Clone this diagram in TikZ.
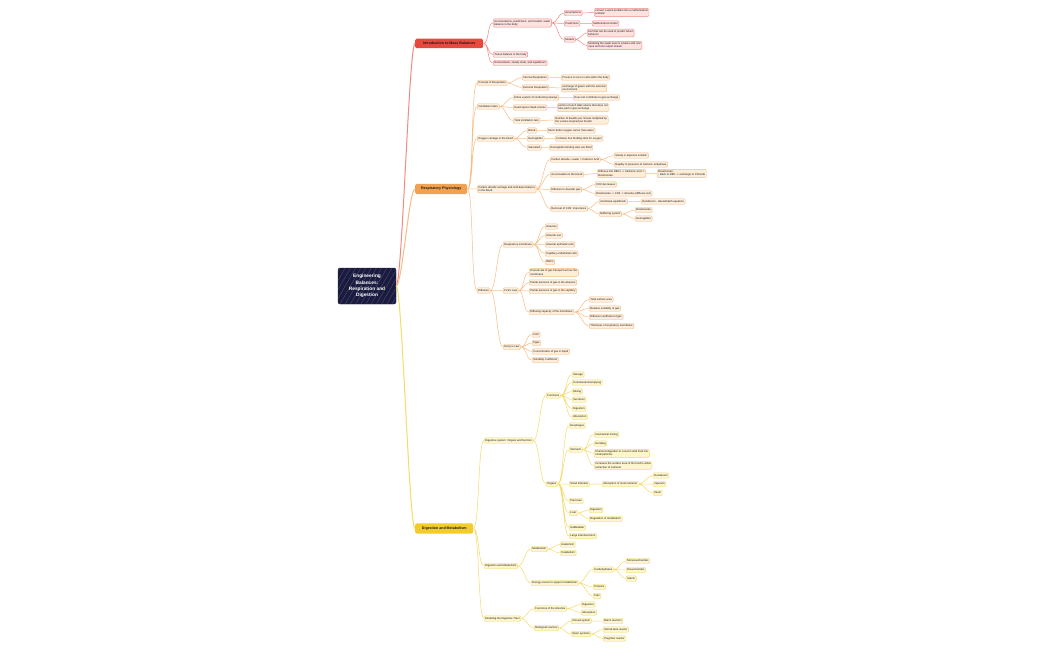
\documentclass[tikz,border=0pt]{standalone}
\usepackage{fontspec}
\setmainfont{Liberation Sans}
\usepackage{xcolor}
\usepackage{tikz}
\usetikzlibrary{patterns.meta}

\definecolor{rootnavy}{HTML}{1B1B40}
\definecolor{redmain}{HTML}{E8483E}
\definecolor{redline}{HTML}{F28A84}
\definecolor{redfill}{HTML}{FDE2E0}
\definecolor{orgmain}{HTML}{F2A14F}
\definecolor{orgline}{HTML}{F6BD84}
\definecolor{orgfill}{HTML}{FDEEDC}
\definecolor{ylwmain}{HTML}{F2CB2C}
\definecolor{ylwline}{HTML}{F4DB6A}
\definecolor{ylwfill}{HTML}{FDF5CE}

\begin{document}
\begin{tikzpicture}[
    x=1pt, y=-1pt,
    rootbox/.style = {
        draw=rootnavy,
        rounded corners=2pt,
        minimum width=58pt,
        minimum height=36pt,
        align=center,
        text=white,
        font=\fontsize{4.8}{6.3}\selectfont\bfseries,
        preaction={fill=rootnavy},
        pattern={Lines[angle=60, distance=4.5pt, line width=0.25pt]},
        pattern color=white!30!rootnavy
    },
    topicbox/.style = {
        rounded corners=1.5pt,
        anchor=west,
        minimum height=9.5pt,
        inner xsep=5pt,
        font=\fontsize{3.6}{4}\selectfont\bfseries,
        text=black!90
    },
    leafbox/.style = {
        draw,
        rounded corners=1.2pt,
        anchor=west,
        align=left,
        minimum height=5.5pt,
        inner sep=1.2pt,
        line width=0.45pt,
        font=\fontsize{2.7}{3.2}\selectfont,
        text=black!90
    },
    redleaf/.style = {leafbox, draw=redline, fill=redfill},
    orgleaf/.style = {leafbox, draw=orgline, fill=orgfill},
    ylwleaf/.style = {leafbox, draw=ylwline, fill=ylwfill},
    link/.style = {out=0, in=180, max distance=6pt, line width=0.5pt},
    redlink/.style = {link, draw=redline},
    orglink/.style = {link, draw=orgline},
    ylwlink/.style = {link, draw=ylwline}
]

\fill[white] (0,0) rectangle (1050,650);
\useasboundingbox (0,0) rectangle (1050,650);

% --- Racine ---
\node[rootbox] (root) at (367,286) {Engineering\\Balances:\\Respiration and\\Digestion};

% --- Introduction to Mass Balances ---
\node[topicbox, fill=redmain, minimum width=68pt] (intro) at (415,43.5) {Introduction to Mass Balances};
\node[redleaf] (accum) at (493,23) {Accumulations, predictions, and models: water\\balance in the body};
\node[redleaf] (assum) at (564,13) {Assumptions};
\node[redleaf] (assumD) at (594,12.5) {convert a word problem into a mathematical\\problem};
\node[redleaf] (predic) at (564,23.5) {Predictions};
\node[redleaf] (predicD) at (592,23.5) {Mathematical model};
\node[redleaf] (models) at (564,39.5) {Models};
\node[redleaf] (modelsA) at (587,33) {tool that can be used to predict future\\behavior};
\node[redleaf] (modelsB) at (587,45.5) {Modeling the water level in a basin with one\\input and one output stream};
\node[redleaf] (tissue) at (493,54.5) {Tissue balance in the body};
\node[redleaf] (homeo) at (493,63) {Homeostasis, steady state, and equilibrium};

% --- Respiratory Physiology ---
\node[topicbox, fill=orgmain, minimum width=52pt] (resp) at (415,189) {Respiratory Physiology};

\node[orgleaf] (concept) at (477,83) {Concept of Respiration};
\node[orgleaf] (internal) at (522,77.5) {Internal Respiration};
\node[orgleaf] (internalD) at (561,77.5) {Process occurs in cells within the body};
\node[orgleaf] (external) at (522,87.5) {External Respiration};
\node[orgleaf] (externalD) at (561,88) {exchange of gases with the external\\environment};

\node[orgleaf] (vent) at (477,106.5) {Ventilation index};
\node[orgleaf] (entire) at (513,97.5) {Entire system of conducting airways};
\node[orgleaf] (entireD) at (573,97.5) {Does not contribute to gas exchange};
\node[orgleaf] (dead) at (513,107.5) {Dead space/ dead volume};
\node[orgleaf] (deadD) at (557,107.5) {portion of each tidal volume that does not\\take part in gas exchange};
\node[orgleaf] (total) at (513,120.5) {Total Ventilation rate};
\node[orgleaf] (totalD) at (554,120) {Number of breaths per minute multiplied by\\the volume inspired per breath};

\node[orgleaf] (oxy) at (477,138.5) {Oxygen carriage in the blood};
\node[orgleaf] (blood) at (527,130.5) {Blood};
\node[orgleaf] (bloodD) at (547,130.5) {Much better oxygen carrier than water};
\node[orgleaf] (hemo) at (527,138.5) {Hemoglobin};
\node[orgleaf] (hemoD) at (555,138.5) {Contains four binding sites for oxygen};
\node[orgleaf] (satur) at (527,147.5) {Saturated};
\node[orgleaf] (saturD) at (549,147.5) {Hemoglobin binding sites are filled};

\node[orgleaf] (carbon) at (477,189) {Carbon dioxide carriage and acid-base balance\\in the blood};
\node[orgleaf] (cdw) at (550,159.5) {Carbon dioxide + water = Carbonic Acid};
\node[orgleaf] (slowly) at (614,155.5) {Slowly in aqueous solution};
\node[orgleaf] (rapidly) at (614,164.5) {Rapidly in presence of carbonic anhydrase};
\node[orgleaf] (accumB) at (550,174.5) {Accumulation in the blood};
\node[orgleaf] (diffRBC) at (597,173.5) {Diffuses into RBCs -> Carbonic acid ->\\Bicarbonate};
\node[orgleaf] (bicarb) at (657,173.5) {Bicarbonate:\\- Back to RBC -> exchange to Chloride};
\node[orgleaf] (diffAlv) at (550,189.5) {Diffusion to Alveolar gas};
\node[orgleaf] (co2dec) at (595,184.5) {CO2 decreases};
\node[orgleaf] (bicAlv) at (595,193.5) {Bicarbonate -> CO2 -> Alveolus (diffuses out)};
\node[orgleaf] (removal) at (550,208.5) {Removal of CO2: importance};
\node[orgleaf] (acidB) at (599,201.5) {Acid-base equilibrium};
\node[orgleaf] (hender) at (641,201.5) {Henderson - Hasselbalch equation};
\node[orgleaf] (buffer) at (599,214) {Buffering system};
\node[orgleaf] (bufBic) at (635,210) {Bicarbonate};
\node[orgleaf] (bufHem) at (635,218.5) {Hemoglobin};

\node[orgleaf] (diffusion) at (477,290.5) {Diffusion};
\node[orgleaf] (respMem) at (503,244.5) {Respiratory membrane};
\node[orgleaf] (alveolus) at (545,226.5) {Alveolus};
\node[orgleaf] (alvSac) at (545,235.5) {Alveolar sac};
\node[orgleaf] (alvEpi) at (545,244.5) {Alveolar epithelial cells};
\node[orgleaf] (capEnd) at (545,253.5) {Capillary endothelial cells};
\node[orgleaf] (rbcs) at (545,262) {RBCs};
\node[orgleaf] (fick) at (503,290.5) {Fick's Law};
\node[orgleaf] (overall) at (529,272.5) {Overall rate of gas transport across the\\membrane};
\node[orgleaf] (ppAlv) at (529,282.5) {Partial pressure of gas in the alveolus};
\node[orgleaf] (ppCap) at (529,291) {Partial pressure of gas in the capillary};
\node[orgleaf] (diffCap) at (529,312) {Diffusing capacity of the membrane};
\node[orgleaf] (surface) at (589,299.5) {Total surface area};
\node[orgleaf] (relSol) at (589,308.5) {Relative solubility of gas};
\node[orgleaf] (diffCoef) at (589,317) {Diffusion coefficient of gas};
\node[orgleaf] (thick) at (589,326) {Thickness of respiratory membrane};
\node[orgleaf] (henry) at (503,347) {Henry's Law};
\node[orgleaf] (co2) at (532,334.5) {CO2};
\node[orgleaf] (pgas) at (532,343) {Pgas};
\node[orgleaf] (conc) at (532,351.5) {Concentration of gas in liquid};
\node[orgleaf] (solub) at (532,360) {Solubility coefficient};

% --- Digestion and Metabolism ---
\node[topicbox, fill=ylwmain, minimum width=58pt] (digest) at (415,528.5) {Digestion and Metabolism};

\node[ylwleaf] (system) at (484,440.5) {Digestive system: Organs and function};
\node[ylwleaf] (functions) at (546,395.5) {Functions};
\node[ylwleaf] (storage) at (572,374.5) {Storage};
\node[ylwleaf] (commin) at (572,382.5) {Comminution/emptying};
\node[ylwleaf] (mixing) at (572,391.5) {Mixing};
\node[ylwleaf] (secretion) at (572,399.5) {Secretion};
\node[ylwleaf] (fDigestion) at (572,408.5) {Digestion};
\node[ylwleaf] (fAbsorption) at (572,417) {Absorption};
\node[ylwleaf] (organs) at (546,484) {Organs};
\node[ylwleaf] (esoph) at (569,425.5) {Esophagus};
\node[ylwleaf] (stomach) at (569,449.5) {Stomach};
\node[ylwleaf] (mech) at (594,434.5) {mechanical mixing};
\node[ylwleaf] (grind) at (594,443.5) {Grinding};
\node[ylwleaf] (chem) at (594,453.5) {Chemical digestion to convert solid food into\\small particles};
\node[ylwleaf] (incr) at (594,465.5) {Increases the surface area of the food to allow\\extraction of nutrients};
\node[ylwleaf] (smallInt) at (569,484) {Small Intestine};
\node[ylwleaf] (absMost) at (602,484) {Absorption of most nutrients};
\node[ylwleaf] (duod) at (653,475.5) {Duodenum};
\node[ylwleaf] (jejun) at (653,484) {Jejunum};
\node[ylwleaf] (ileum) at (653,493) {Ileum};
\node[ylwleaf] (pancreas) at (569,501) {Pancreas};
\node[ylwleaf] (liver) at (569,513) {Liver};
\node[ylwleaf] (livDig) at (589,510) {Digestion};
\node[ylwleaf] (livReg) at (589,519) {Regulation of metabolism};
\node[ylwleaf] (gall) at (569,527.5) {Gallbladder};
\node[ylwleaf] (large) at (569,536) {Large intestine/colon};

\node[ylwleaf] (digMet) at (484,566) {Digestion and Metabolism};
\node[ylwleaf] (metab) at (531,549) {Metabolism};
\node[ylwleaf] (anab) at (560,544.5) {Anabolism};
\node[ylwleaf] (catab) at (560,553) {Catabolism};
\node[ylwleaf] (energy) at (531,583) {Energy source to support metabolism};
\node[ylwleaf] (carbo) at (593,569.5) {Carbohydrates};
\node[ylwleaf] (mono) at (626,561) {Monosaccharides};
\node[ylwleaf] (disacc) at (626,570) {Disaccharides};
\node[ylwleaf] (starch) at (626,578.5) {Starch};
\node[ylwleaf] (proteins) at (593,587) {Proteins};
\node[ylwleaf] (fats) at (593,596) {Fats};

\node[ylwleaf] (model) at (484,618.5) {Modeling the Digestive Tract};
\node[ylwleaf] (funcInt) at (534,608.5) {Functions of the intestine};
\node[ylwleaf] (iDigestion) at (581,604.5) {Digestion};
\node[ylwleaf] (iAbsorption) at (581,612.5) {Absorption};
\node[ylwleaf] (bioReac) at (534,628) {Biological reactors};
\node[ylwleaf] (closed) at (571,621) {Closed system};
\node[ylwleaf] (batch) at (603,621) {Batch reaction};
\node[ylwleaf] (open) at (571,634) {Open systems};
\node[ylwleaf] (stirred) at (603,629.5) {Stirred tank reactor};
\node[ylwleaf] (plug) at (603,638.5) {Plug flow reactor};

% --- Branches principales ---
\draw[redlink, line width=1pt] (root) to (intro);
\draw[orglink, line width=1pt] (root) to (resp);
\draw[ylwlink, line width=1pt] (root) to (digest);

% --- Liens (rouge) ---
\draw[redlink] (intro) to (accum) (intro) to (tissue) (intro) to (homeo);
\draw[redlink] (accum) to (assum) (accum) to (predic) (accum) to (models);
\draw[redlink] (assum) to (assumD) (predic) to (predicD);
\draw[redlink] (models) to (modelsA) (models) to (modelsB);

% --- Liens (orange) ---
\draw[orglink] (resp) to (concept) (resp) to (vent) (resp) to (oxy)
    (resp) to (carbon) (resp) to (diffusion);
\draw[orglink] (concept) to (internal) (concept) to (external)
    (internal) to (internalD) (external) to (externalD);
\draw[orglink] (vent) to (entire) (vent) to (dead) (vent) to (total)
    (entire) to (entireD) (dead) to (deadD) (total) to (totalD);
\draw[orglink] (oxy) to (blood) (oxy) to (hemo) (oxy) to (satur)
    (blood) to (bloodD) (hemo) to (hemoD) (satur) to (saturD);
\draw[orglink] (carbon) to (cdw) (carbon) to (accumB) (carbon) to (diffAlv) (carbon) to (removal);
\draw[orglink] (cdw) to (slowly) (cdw) to (rapidly)
    (accumB) to (diffRBC) (diffRBC) to (bicarb)
    (diffAlv) to (co2dec) (diffAlv) to (bicAlv)
    (removal) to (acidB) (removal) to (buffer)
    (acidB) to (hender) (buffer) to (bufBic) (buffer) to (bufHem);
\draw[orglink] (diffusion) to (respMem) (diffusion) to (fick) (diffusion) to (henry);
\draw[orglink] (respMem) to (alveolus) (respMem) to (alvSac) (respMem) to (alvEpi)
    (respMem) to (capEnd) (respMem) to (rbcs);
\draw[orglink] (fick) to (overall) (fick) to (ppAlv) (fick) to (ppCap) (fick) to (diffCap);
\draw[orglink] (diffCap) to (surface) (diffCap) to (relSol) (diffCap) to (diffCoef) (diffCap) to (thick);
\draw[orglink] (henry) to (co2) (henry) to (pgas) (henry) to (conc) (henry) to (solub);

% --- Liens (jaune) ---
\draw[ylwlink] (digest) to (system) (digest) to (digMet) (digest) to (model);
\draw[ylwlink] (system) to (functions) (system) to (organs);
\draw[ylwlink] (functions) to (storage) (functions) to (commin) (functions) to (mixing)
    (functions) to (secretion) (functions) to (fDigestion) (functions) to (fAbsorption);
\draw[ylwlink] (organs) to (esoph) (organs) to (stomach) (organs) to (smallInt)
    (organs) to (pancreas) (organs) to (liver) (organs) to (gall) (organs) to (large);
\draw[ylwlink] (stomach) to (mech) (stomach) to (grind) (stomach) to (chem) (stomach) to (incr);
\draw[ylwlink] (smallInt) to (absMost) (absMost) to (duod) (absMost) to (jejun) (absMost) to (ileum);
\draw[ylwlink] (liver) to (livDig) (liver) to (livReg);
\draw[ylwlink] (digMet) to (metab) (digMet) to (energy)
    (metab) to (anab) (metab) to (catab)
    (energy) to (carbo) (energy) to (proteins) (energy) to (fats)
    (carbo) to (mono) (carbo) to (disacc) (carbo) to (starch);
\draw[ylwlink] (model) to (funcInt) (model) to (bioReac)
    (funcInt) to (iDigestion) (funcInt) to (iAbsorption)
    (bioReac) to (closed) (bioReac) to (open)
    (closed) to (batch) (open) to (stirred) (open) to (plug);

\end{tikzpicture}
\end{document}
